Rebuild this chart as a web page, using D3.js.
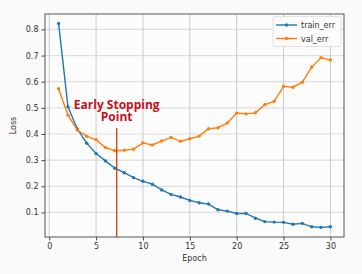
<!DOCTYPE html>
<html>
<head>
<meta charset="utf-8">
<script src="https://cdn.jsdelivr.net/npm/d3@7"></script>
<style>
  html, body { margin: 0; padding: 0; background: #fafafa; }
  svg { display: block; font-family: "DejaVu Sans", sans-serif; }
</style>
</head>
<body>
<svg id="chart" width="362" height="274"></svg>
<script>
const epochs = d3.range(1, 31);
const trainErr = [0.823, 0.504, 0.419, 0.365, 0.325, 0.297, 0.269, 0.252, 0.233, 0.219,
                  0.208, 0.186, 0.169, 0.159, 0.146, 0.137, 0.132, 0.110, 0.105, 0.096,
                  0.096, 0.078, 0.065, 0.063, 0.062, 0.055, 0.058, 0.045, 0.043, 0.045];
const valErr = [0.573, 0.472, 0.415, 0.391, 0.378, 0.348, 0.336, 0.338, 0.342, 0.366,
                0.358, 0.373, 0.387, 0.372, 0.382, 0.392, 0.420, 0.424, 0.442, 0.480,
                0.477, 0.481, 0.512, 0.525, 0.582, 0.579, 0.598, 0.656, 0.692, 0.683];
const xTicks = [0, 5, 10, 15, 20, 25, 30];
const yTicks = [0.1, 0.2, 0.3, 0.4, 0.5, 0.6, 0.7, 0.8];
const stopEpoch = 7.2;
const stopTop = 0.423;
const annotationLines = ["Early Stopping", "Point"];
const seriesNames = ["train_err", "val_err"];
const seriesColors = ["#1f77b4", "#ff7f0e"];

const svg = d3.select("#chart");
const L = 45, R = 344, T = 14, B = 237;
const x = d3.scaleLinear().domain([-0.45, 31.45]).range([L, R]);
const y = d3.scaleLinear().domain([0.006, 0.859]).range([B, T]);

svg.append("rect").attr("x", L).attr("y", T).attr("width", R - L).attr("height", B - T).attr("fill", "#fcfcfc");

// grid
svg.append("g").selectAll("line").data(yTicks).join("line")
  .attr("x1", L).attr("x2", R).attr("y1", d => y(d)).attr("y2", d => y(d))
  .attr("stroke", "#dedede").attr("stroke-width", 1.2);
svg.append("g").selectAll("line").data(xTicks).join("line")
  .attr("x1", d => x(d)).attr("x2", d => x(d)).attr("y1", T).attr("y2", B)
  .attr("stroke", "#c4c4c4").attr("stroke-width", 0.9);

// axes
const xAxis = svg.append("g").attr("transform", `translate(0,${B})`)
  .call(d3.axisBottom(x).tickValues(xTicks).tickSize(3.5).tickPadding(3).tickFormat(d3.format("d")));
const yAxis = svg.append("g").attr("transform", `translate(${L},0)`)
  .call(d3.axisLeft(y).tickValues(yTicks).tickSize(3.5).tickPadding(3).tickFormat(d3.format(".1f")));
[xAxis, yAxis].forEach(g => {
  g.select(".domain").remove();
  g.selectAll("line").attr("stroke", "#444");
  g.selectAll("text").attr("fill", "#333").style("font-size", "8px").style("font-family", "DejaVu Sans, sans-serif");
});

// frame
svg.append("rect").attr("x", L).attr("y", T).attr("width", R - L).attr("height", B - T)
  .attr("fill", "none").attr("stroke", "#555").attr("stroke-width", 1);

// lines
const seriesData = [trainErr, valErr];
const line = d3.line().x((d, i) => x(epochs[i])).y(d => y(d));
seriesData.forEach((s, k) => {
  svg.append("path").datum(s).attr("d", line).attr("fill", "none")
    .attr("stroke", seriesColors[k]).attr("stroke-width", 1.4);
  svg.append("g").selectAll("circle").data(s).join("circle")
    .attr("cx", (d, i) => x(epochs[i])).attr("cy", d => y(d)).attr("r", 1.7)
    .attr("fill", seriesColors[k]);
});

// early stopping line
svg.append("line").attr("x1", x(stopEpoch)).attr("x2", x(stopEpoch))
  .attr("y1", y(stopTop)).attr("y2", B)
  .attr("stroke", "#d63a1a").attr("stroke-width", 1.3);
const ann = svg.append("text").attr("text-anchor", "middle").attr("fill", "#c4121c")
  .style("font-family", "Open Sans, sans-serif").style("font-weight", "bold").style("font-size", "12px");
annotationLines.forEach((t, i) => {
  ann.append("tspan").attr("x", x(stopEpoch)).attr("y", 108.5 + i * 12.5).text(t);
});

// axis labels
svg.append("text").attr("x", (L + R) / 2).attr("y", 261).attr("text-anchor", "middle")
  .attr("fill", "#333").style("font-size", "8px").text("Epoch");
svg.append("text").attr("transform", `translate(16,${(T + B) / 2}) rotate(-90)`)
  .attr("text-anchor", "middle").attr("fill", "#333").style("font-size", "8px").text("Loss");

// legend
const lg = svg.append("g");
lg.append("rect").attr("x", 273).attr("y", 16.5).attr("width", 68).attr("height", 30).attr("rx", 2)
  .attr("fill", "#fcfcfc").attr("fill-opacity", 0.9).attr("stroke", "#dadada").attr("stroke-width", 0.8);
seriesNames.forEach((n, k) => {
  const yy = 25 + k * 13.5;
  lg.append("line").attr("x1", 276).attr("x2", 297).attr("y1", yy).attr("y2", yy)
    .attr("stroke", seriesColors[k]).attr("stroke-width", 1.4);
  lg.append("circle").attr("cx", 286.5).attr("cy", yy).attr("r", 1.7).attr("fill", seriesColors[k]);
  lg.append("text").attr("x", 301).attr("y", yy + 3).attr("fill", "#333").style("font-size", "8px").text(n);
});
</script>
</body>
</html>
